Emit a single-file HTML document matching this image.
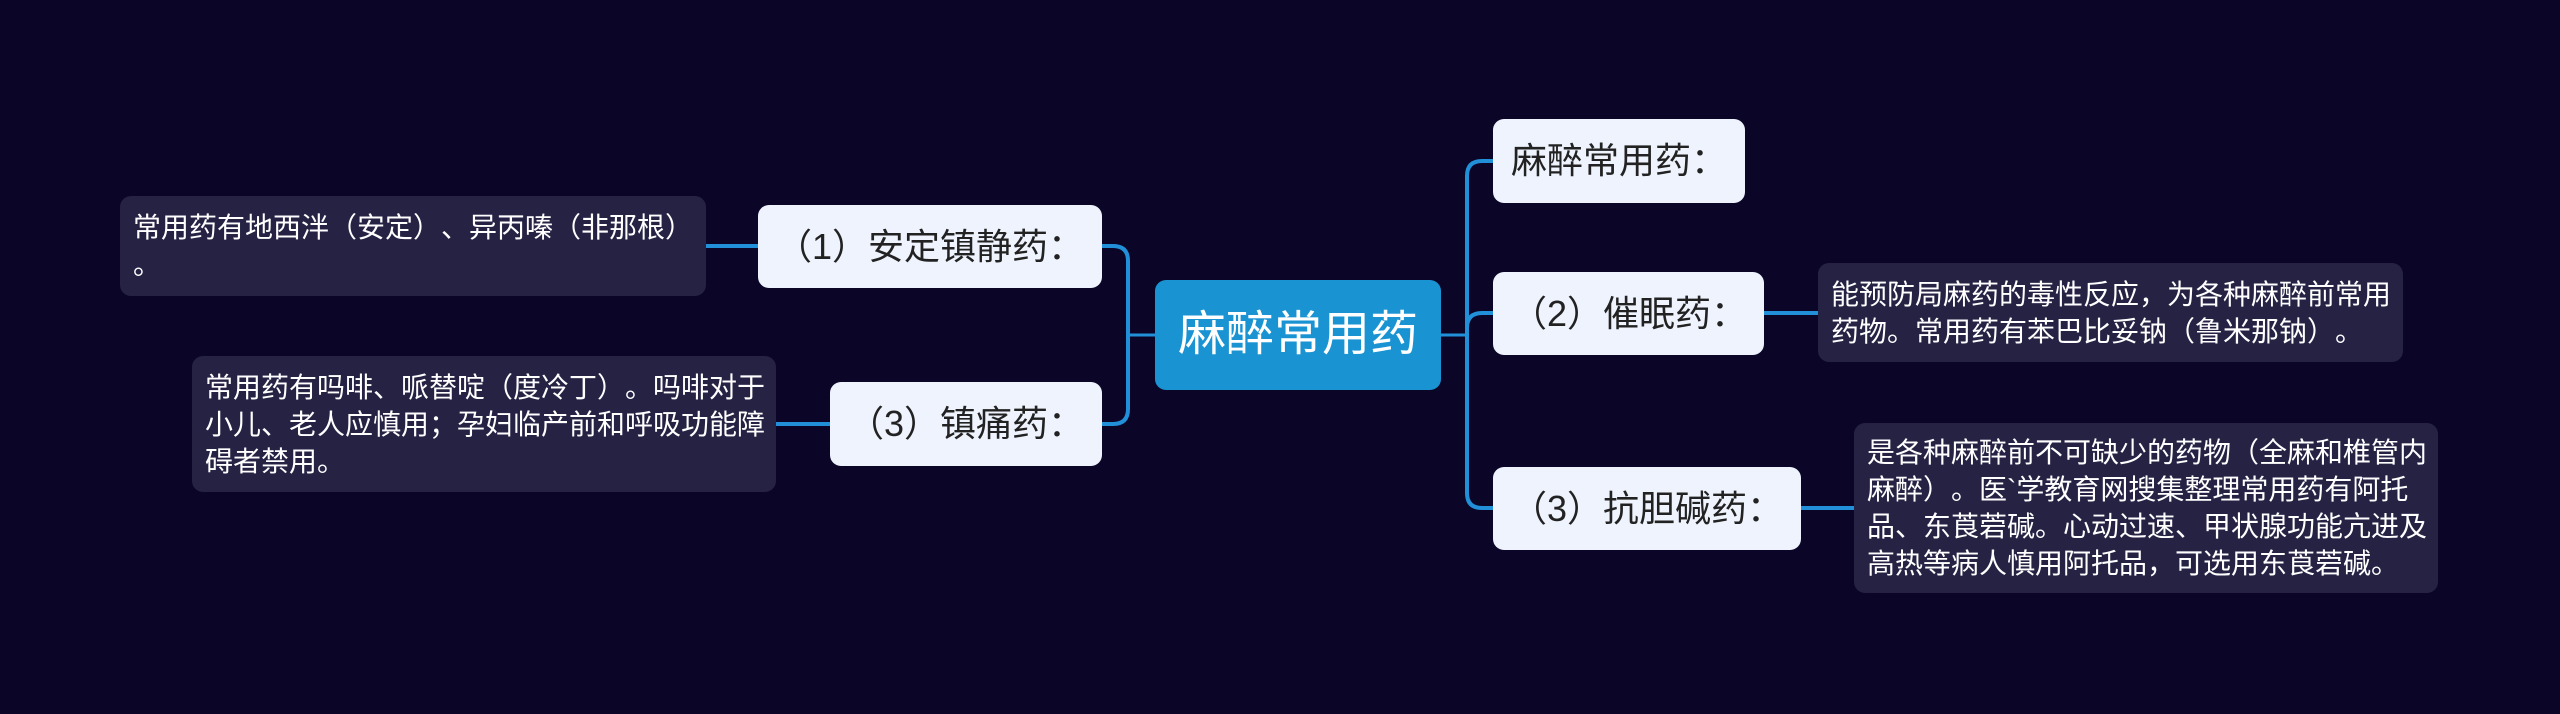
<!DOCTYPE html>
<html>
<head>
<meta charset="utf-8">
<style>
  html,body{margin:0;padding:0;}
  body{width:2560px;height:714px;background:#0b0628;position:relative;overflow:hidden;
       font-family:"Liberation Sans","Noto Sans CJK SC",sans-serif;
       text-spacing-trim:space-all;font-kerning:none;font-feature-settings:"halt" 0,"chws" 0;}
  .node{position:absolute;background:#eef3fd;border-radius:11px;color:#222;font-size:36px;
        display:flex;align-items:center;padding-left:18px;box-sizing:border-box;white-space:nowrap;line-height:1;}
  .center{position:absolute;background:#1a93d3;border-radius:11px;color:#fff;font-size:48px;
        display:flex;align-items:center;justify-content:center;box-sizing:border-box;white-space:nowrap;line-height:1;}
  .leaf{position:absolute;background:#252244;border-radius:11px;color:#fff;font-size:28px;line-height:37px;
        display:flex;flex-direction:column;justify-content:center;padding-left:13px;box-sizing:border-box;white-space:nowrap;}
  svg{position:absolute;left:0;top:0;}
</style>
</head>
<body>
<svg width="2560" height="714" viewBox="0 0 2560 714">
  <g fill="none" stroke="#2190d8" stroke-width="4" stroke-linecap="butt">
    <path d="M1128,335 V261 Q1128,246 1113,246 H1102"/>
    <path d="M1128,335 V409 Q1128,424 1113,424 H1102"/>
    <path d="M706,246 H758"/>
    <path d="M776,424 H830"/>
    <path d="M1467,335 V176 Q1467,161 1482,161 H1493"/>
    <path d="M1467,335 V328 Q1467,313 1482,313 H1493"/>
    <path d="M1467,335 V493 Q1467,508 1482,508 H1493"/>
    <path d="M1764,313 H1818"/>
    <path d="M1801,508 H1854"/>
  </g>
  <g fill="none" stroke="#2190d8" stroke-width="3">
    <path d="M1128,335 H1155"/>
    <path d="M1441,335 H1467"/>
  </g>
</svg>

<div class="center" style="left:1155px;top:280px;width:286px;height:110px;">麻醉常用药</div>

<div class="node" style="left:1493px;top:119px;width:252px;height:84px;">麻醉常用药：</div>
<div class="node" style="left:1493px;top:272px;width:271px;height:83px;">（2）催眠药：</div>
<div class="node" style="left:1493px;top:467px;width:308px;height:83px;">（3）抗胆碱药：</div>
<div class="node" style="left:758px;top:205px;width:344px;height:83px;">（1）安定镇静药：</div>
<div class="node" style="left:830px;top:382px;width:272px;height:84px;">（3）镇痛药：</div>

<div class="leaf" style="left:120px;top:196px;width:586px;height:100px;">
  <div>常用药有地西泮（安定）、异丙嗪（非那根）</div>
  <div>。</div>
</div>
<div class="leaf" style="left:192px;top:356px;width:584px;height:136px;">
  <div>常用药有吗啡、哌替啶（度冷丁）。吗啡对于</div>
  <div>小儿、老人应慎用；孕妇临产前和呼吸功能障</div>
  <div>碍者禁用。</div>
</div>
<div class="leaf" style="left:1818px;top:263px;width:585px;height:99px;">
  <div>能预防局麻药的毒性反应，为各种麻醉前常用</div>
  <div>药物。常用药有苯巴比妥钠（鲁米那钠）。</div>
</div>
<div class="leaf" style="left:1854px;top:423px;width:584px;height:170px;">
  <div>是各种麻醉前不可缺少的药物（全麻和椎管内</div>
  <div>麻醉）。医`学教育网搜集整理常用药有阿托</div>
  <div>品、东莨菪碱。心动过速、甲状腺功能亢进及</div>
  <div>高热等病人慎用阿托品，可选用东莨菪碱。</div>
</div>
</body>
</html>
